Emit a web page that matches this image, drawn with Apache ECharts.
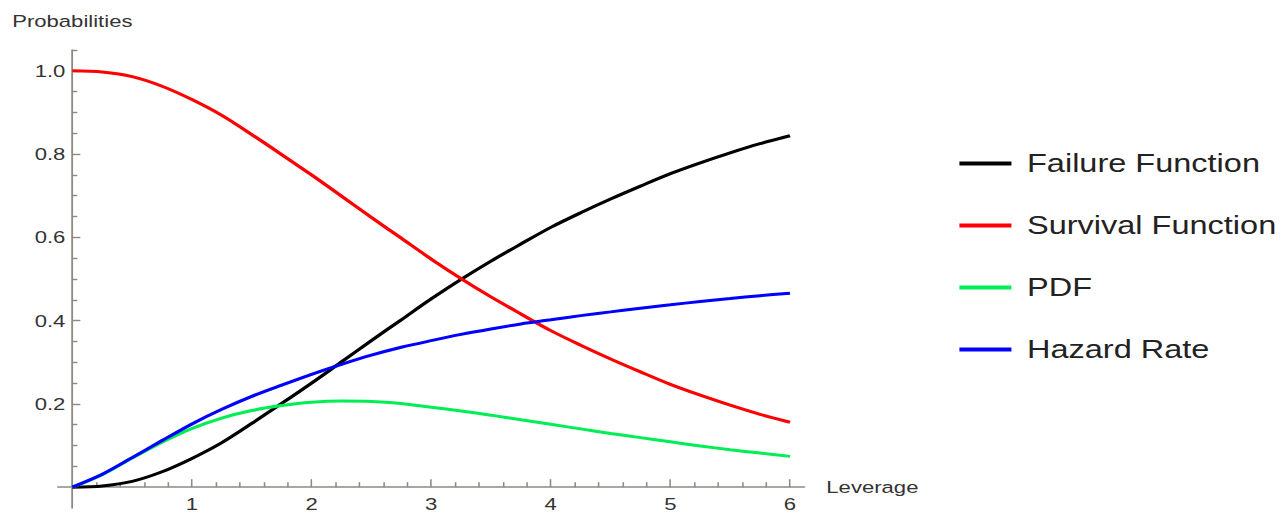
<!DOCTYPE html>
<html>
<head>
<meta charset="utf-8">
<title>Probabilities vs Leverage</title>
<script src="https://cdn.jsdelivr.net/npm/echarts@6/dist/echarts.min.js"></script>
<style>
  html, body { margin: 0; padding: 0; background: #ffffff; overflow: hidden; }
  #stage { width: 1283px; height: 513px; overflow: hidden; }
  #chart { height: 513px; transform-origin: 0 0; }
</style>
</head>
<body>
<div id="stage"><div id="chart"></div></div>
<script>
// Leverage grid and the four curves sampled along it
const leverage = [0, 0.25, 0.5, 0.75, 1, 1.25, 1.5, 1.75, 2, 2.25, 2.5, 2.75, 3,
                  3.25, 3.5, 3.75, 4, 4.25, 4.5, 4.75, 5, 5.25, 5.5, 5.75, 6];
const failure  = [0, 0.003, 0.014, 0.037, 0.069, 0.107, 0.153, 0.201, 0.250, 0.301, 0.352, 0.402, 0.452,
                  0.499, 0.543, 0.584, 0.624, 0.659, 0.692, 0.723, 0.753, 0.779, 0.803, 0.825, 0.844];
const survival = [1.000, 0.997, 0.986, 0.963, 0.931, 0.893, 0.847, 0.799, 0.750, 0.699, 0.648, 0.598, 0.548,
                  0.501, 0.457, 0.416, 0.376, 0.341, 0.308, 0.277, 0.247, 0.221, 0.197, 0.175, 0.156];
const pdf      = [0, 0.030, 0.070, 0.108, 0.141, 0.166, 0.184, 0.196, 0.204, 0.207, 0.206, 0.201, 0.192,
                  0.183, 0.173, 0.162, 0.151, 0.140, 0.129, 0.119, 0.109, 0.099, 0.090, 0.082, 0.074];
const hazard   = [0, 0.031, 0.071, 0.112, 0.152, 0.187, 0.218, 0.245, 0.271, 0.295, 0.317, 0.336, 0.352,
                  0.367, 0.380, 0.392, 0.402, 0.412, 0.421, 0.430, 0.438, 0.446, 0.453, 0.460, 0.466];

// Axis tick labels
const xTickValues = [1, 2, 3, 4, 5, 6];
const yTickValues = [0.2, 0.4, 0.6, 0.8, 1.0];

// Minor tick positions between the labelled ticks
const xMinorValues = [];
for (let k = 1; k <= 30; k++) { if (k % 5 !== 0) xMinorValues.push(+(k * 0.2).toFixed(2)); }
const yMinorValues = [];
for (let k = 1; k <= 21; k++) { if (k % 4 !== 0) yMinorValues.push(+(k * 0.05).toFixed(2)); }

// The drawing is laid out in a narrower frame and widened horizontally
const SX = 1.3;
const frameW = Math.round(1283 / SX);
const chartEl = document.getElementById('chart');
chartEl.style.width = frameW + 'px';
chartEl.style.transform = 'scaleX(' + (1283 / frameW) + ')';

const AXIS = '#8e8983';
const TEXT = '#333333';
const FONT = '"Liberation Sans", Arial, sans-serif';

// Axis ranges run a little past the origin so the two axis lines cross
const X_MIN = -0.12, X_MAX = 6.12, Y_MIN = -0.05, Y_MAX = 1.05;
const GRID_LEFT = 58 / SX, GRID_W = (804.4 - 58) / SX, GRID_TOP = 50, GRID_H = 458;
// Shift each axis from the grid edge onto the other axis's zero
const X_AXIS_SHIFT = -GRID_H * (0 - Y_MIN) / (Y_MAX - Y_MIN);
const Y_AXIS_SHIFT = -GRID_W * (0 - X_MIN) / (X_MAX - X_MIN);

const chart = echarts.init(chartEl, null, { renderer: 'svg' });

function pairs(ys) { return leverage.map((x, i) => [x, ys[i]]); }

function lineSeries(name, ys, color) {
  return {
    name: name,
    type: 'line',
    data: pairs(ys),
    xAxisIndex: 0,
    yAxisIndex: 0,
    smooth: 0.3,
    showSymbol: false,
    symbol: 'none',
    color: color,
    lineStyle: { color: color, width: 3 },
    itemStyle: { color: color },
    emphasis: { disabled: true }
  };
}

const xAxisBase = { type: 'value', min: X_MIN, max: X_MAX, position: 'bottom', offset: X_AXIS_SHIFT,
                    splitLine: { show: false } };
const yAxisBase = { type: 'value', min: Y_MIN, max: Y_MAX, position: 'left', offset: Y_AXIS_SHIFT,
                    splitLine: { show: false } };

chart.setOption({
  animation: false,
  backgroundColor: '#ffffff',
  textStyle: { fontFamily: FONT },
  grid: {
    left: GRID_LEFT,
    width: GRID_W,
    top: GRID_TOP,
    height: GRID_H,
    containLabel: false,
    outerBoundsMode: 'none'
  },
  legend: {
    orient: 'vertical',
    left: 953 / SX,
    top: 144,
    itemWidth: 52 / SX,
    itemHeight: 4,
    itemGap: 33,
    icon: 'rect',
    selectedMode: false,
    textStyle: {
      fontFamily: FONT,
      fontSize: 25,
      color: '#222222',
      lineHeight: 29,
      padding: [0, 0, 0, 7]
    },
    data: ['Failure Function', 'Survival Function', 'PDF', 'Hazard Rate']
  },
  xAxis: [
    Object.assign({}, xAxisBase, {
      name: 'Leverage',
      nameLocation: 'end',
      nameGap: 22 / SX,
      nameTextStyle: { fontFamily: FONT, fontSize: 17, color: TEXT },
      axisLine: { show: true, onZero: false, lineStyle: { color: AXIS, width: 1.6 } },
      axisTick: { show: true, inside: true, length: 8, customValues: xTickValues, lineStyle: { color: AXIS, width: 1.2 } },
      axisLabel: { show: true, customValues: xTickValues, margin: 8, fontSize: 17, color: TEXT, fontFamily: FONT,
                   formatter: v => String(v) }
    }),
    Object.assign({}, xAxisBase, {
      axisLine: { show: false, onZero: false },
      axisTick: { show: true, inside: true, length: 5, customValues: xMinorValues, lineStyle: { color: AXIS, width: 1.2 } },
      axisLabel: { show: false }
    })
  ],
  yAxis: [
    Object.assign({}, yAxisBase, {
      name: 'Probabilities',
      nameLocation: 'end',
      nameGap: 21,
      nameTextStyle: { fontFamily: FONT, fontSize: 17, color: TEXT },
      axisLine: { show: true, onZero: false, lineStyle: { color: AXIS, width: 1.4 } },
      axisTick: { show: true, inside: true, length: 8 / SX, customValues: yTickValues, lineStyle: { color: AXIS, width: 1.4 } },
      axisLabel: { show: true, customValues: yTickValues, margin: 7 / SX, fontSize: 17, color: TEXT, fontFamily: FONT,
                   formatter: v => v.toFixed(1) }
    }),
    Object.assign({}, yAxisBase, {
      axisLine: { show: false, onZero: false },
      axisTick: { show: true, inside: true, length: 5 / SX, customValues: yMinorValues, lineStyle: { color: AXIS, width: 1.4 } },
      axisLabel: { show: false }
    })
  ],
  series: [
    lineSeries('Failure Function', failure, '#000000'),
    lineSeries('Survival Function', survival, '#ff0000'),
    lineSeries('PDF', pdf, '#00ee55'),
    lineSeries('Hazard Rate', hazard, '#0000ff')
  ]
});
</script>
</body>
</html>
